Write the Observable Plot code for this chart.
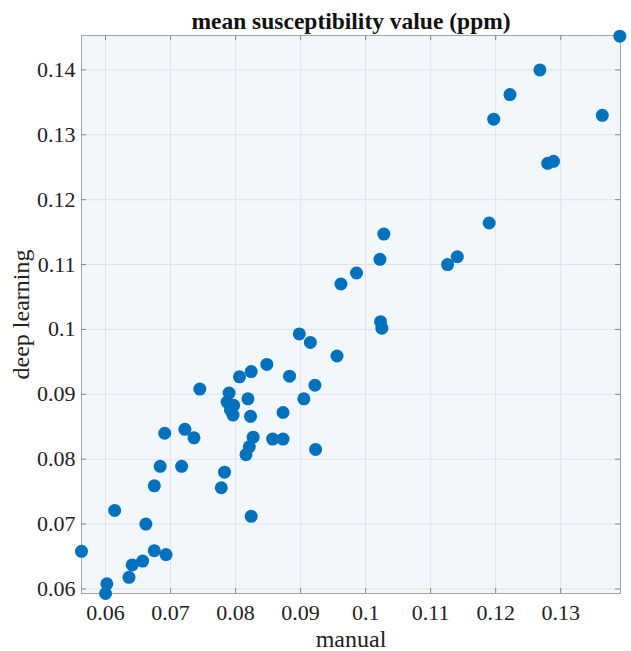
<!DOCTYPE html>
<html>
<head>
<meta charset="utf-8">
<script src="https://cdn.jsdelivr.net/npm/d3@7"></script>
<script src="https://cdn.jsdelivr.net/npm/@observablehq/plot@0.6"></script>
<style>
  html, body { margin: 0; padding: 0; background: #ffffff; }
  #chart svg { display: block; }
</style>
</head>
<body>
<div id="chart"></div>
<script>
// Data
const manual = [
  0.0563, 0.0602, 0.0600, 0.0614, 0.0636, 0.0641, 0.0657, 0.0662, 0.0675, 0.0693,
  0.0675, 0.0684, 0.0691, 0.0717, 0.0722, 0.0736, 0.0745, 0.0778, 0.0783, 0.0790,
  0.0787, 0.0797, 0.0792, 0.0796, 0.0806, 0.0824, 0.0848, 0.0819, 0.0823, 0.0827,
  0.0821, 0.0816, 0.0824, 0.0857, 0.0873, 0.0873, 0.0883, 0.0905, 0.0922, 0.0923,
  0.0898, 0.0915, 0.0956, 0.1023, 0.1025, 0.0962, 0.0986, 0.1022, 0.1028, 0.1126,
  0.1141, 0.1190, 0.1197, 0.1222, 0.1268, 0.1391, 0.1364, 0.1280, 0.1289
];
const deepLearning = [
  0.0658, 0.0608, 0.0593, 0.0721, 0.0618, 0.0637, 0.0643, 0.0700, 0.0659, 0.0653,
  0.0759, 0.0789, 0.0840, 0.0789, 0.0846, 0.0833, 0.0908, 0.0756, 0.0780, 0.0902,
  0.0888, 0.0883, 0.0876, 0.0868, 0.0927, 0.0935, 0.0946, 0.0893, 0.0866, 0.0834,
  0.0819, 0.0807, 0.0712, 0.0831, 0.0831, 0.0872, 0.0928, 0.0893, 0.0914, 0.0815,
  0.0993, 0.0980, 0.0959, 0.1012, 0.1002, 0.1070, 0.1087, 0.1108, 0.1147, 0.1100,
  0.1112, 0.1164, 0.1324, 0.1362, 0.1400, 0.1452, 0.1330, 0.1256, 0.1259
];
const xTicks = [0.06, 0.07, 0.08, 0.09, 0.1, 0.11, 0.12, 0.13];
const yTicks = [0.06, 0.07, 0.08, 0.09, 0.1, 0.11, 0.12, 0.13, 0.14];
const xDomain = [0.0563, 0.1392];
const yDomain = [0.0593, 0.1453];
const titleText = "mean susceptibility value (ppm)";
const xLabel = "manual";
const yLabel = "deep learning";

const points = manual.map((m, i) => ({manual: m, deep: deepLearning[i]}));

const W = 631, H = 651;
const mL = 81, mR = 11, mT = 35, mB = 58;
const plotW = W - mL - mR, plotH = H - mT - mB;
const font = "'Liberation Serif', 'Times New Roman', Times, serif";
const axisColor = "#a3a3a3";
const tickLen = 5;
const fmt = d => String(d);

const chart = Plot.plot({
  width: W,
  height: H,
  marginLeft: mL,
  marginRight: mR,
  marginTop: mT,
  marginBottom: mB,
  style: {fontFamily: font, background: "#ffffff", color: "#222"},
  x: {domain: xDomain, label: null},
  y: {domain: yDomain, label: null},
  marks: [
    Plot.frame({fill: "#f2f7fc", stroke: null}),
    Plot.gridX(xTicks, {stroke: "#dde3ea", strokeOpacity: 1}),
    Plot.gridY(yTicks, {stroke: "#dde3ea", strokeOpacity: 1}),
    Plot.frame({stroke: axisColor, strokeWidth: 1}),
    // inward ticks: bottom, top, left, right
    Plot.tickX(xTicks, {x: d => d, insetTop: plotH - tickLen, stroke: "#888"}),
    Plot.tickX(xTicks, {x: d => d, insetBottom: plotH - tickLen, stroke: "#888"}),
    Plot.tickY(yTicks, {y: d => d, insetRight: plotW - tickLen, stroke: "#888"}),
    Plot.tickY(yTicks, {y: d => d, insetLeft: plotW - tickLen, stroke: "#888"}),
    Plot.axisX({ticks: xTicks, tickSize: 0, tickPadding: 11, tickFormat: fmt, fontSize: 22, label: null, fill: "#222"}),
    Plot.axisY({ticks: yTicks, tickSize: 0, tickPadding: 6, tickFormat: fmt, fontSize: 22, label: null, fill: "#222"}),
    Plot.dot(points, {x: "manual", y: "deep", r: 6.5, fill: "#0072BD", stroke: null}),
    Plot.text([titleText], {frameAnchor: "top", dy: -14.5, textAnchor: "middle", lineAnchor: "middle", fontSize: 23.5, fontWeight: "bold", fill: "#111"}),
    Plot.text([xLabel], {frameAnchor: "bottom", dy: 46, textAnchor: "middle", lineAnchor: "middle", fontSize: 24, fill: "#222"}),
    Plot.text([yLabel], {frameAnchor: "left", dx: -60.5, rotate: -90, textAnchor: "middle", lineAnchor: "middle", fontSize: 24, fill: "#222"})
  ]
});

document.getElementById("chart").appendChild(chart);
</script>
</body>
</html>
